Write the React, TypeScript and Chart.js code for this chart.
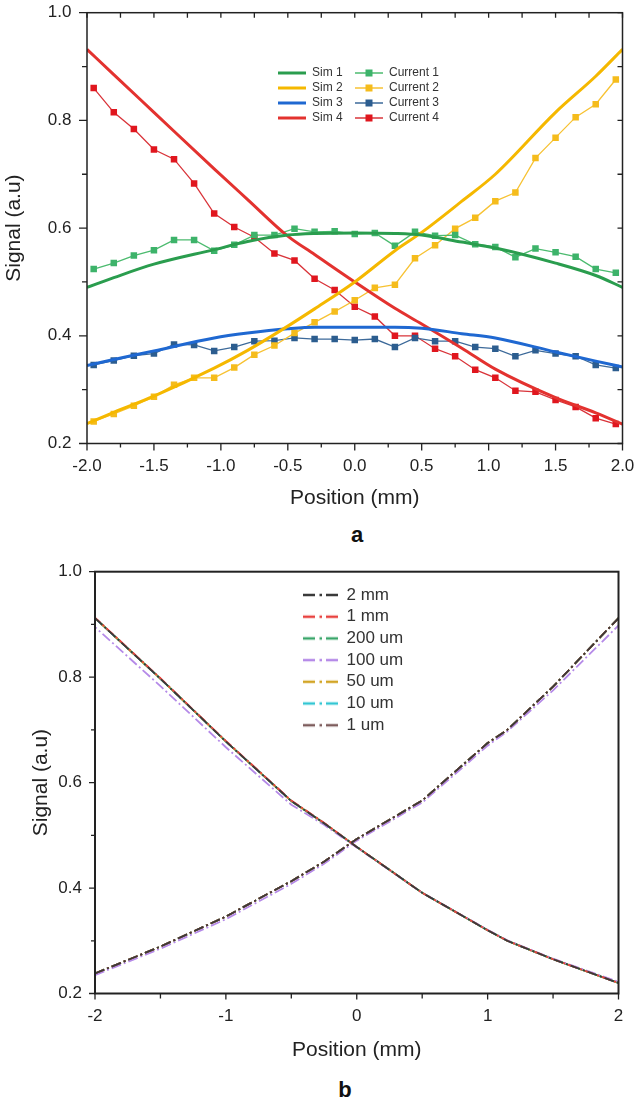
import React, { useEffect, useRef } from "react";
import { Chart, registerables } from "chart.js";

Chart.register(...registerables);

const FONT = "'Liberation Sans', Arial, Helvetica, sans-serif";
const INK = "#222222";

// ---------------- Panel a ----------------
const simX = [-2, -1.8, -1.5, -1.05, -0.8, -0.5, -0.3, 0, 0.3, 0.5, 0.8, 1.05, 1.5, 1.8, 2];
const sim1 = [0.490, 0.508, 0.533, 0.560, 0.575, 0.587, 0.590, 0.591, 0.590, 0.587, 0.574, 0.563, 0.535, 0.512, 0.490];
const sim2 = [0.237, 0.258, 0.288, 0.340, 0.373, 0.418, 0.450, 0.500, 0.558, 0.592, 0.650, 0.700, 0.815, 0.882, 0.932];
const sim3 = [0.345, 0.356, 0.372, 0.396, 0.405, 0.413, 0.416, 0.416, 0.416, 0.414, 0.404, 0.396, 0.370, 0.353, 0.342];
const sim4 = [0.932, 0.885, 0.815, 0.710, 0.653, 0.585, 0.551, 0.500, 0.451, 0.422, 0.377, 0.338, 0.285, 0.257, 0.236];

const curX = [-1.95, -1.8, -1.65, -1.5, -1.35, -1.2, -1.05, -0.9, -0.75, -0.6, -0.45, -0.3, -0.15, 0, 0.15, 0.3, 0.45, 0.6, 0.75, 0.9, 1.05, 1.2, 1.35, 1.5, 1.65, 1.8, 1.95];
const current1 = [0.524, 0.535, 0.549, 0.559, 0.578, 0.578, 0.558, 0.569, 0.587, 0.587, 0.599, 0.593, 0.594, 0.589, 0.591, 0.567, 0.593, 0.586, 0.587, 0.570, 0.565, 0.546, 0.562, 0.555, 0.547, 0.524, 0.517];
const current2 = [0.241, 0.255, 0.270, 0.287, 0.309, 0.322, 0.322, 0.341, 0.365, 0.382, 0.405, 0.425, 0.445, 0.466, 0.489, 0.495, 0.544, 0.568, 0.599, 0.619, 0.650, 0.666, 0.730, 0.768, 0.806, 0.830, 0.876];
const current3 = [0.346, 0.354, 0.363, 0.367, 0.384, 0.383, 0.372, 0.379, 0.390, 0.391, 0.396, 0.394, 0.394, 0.392, 0.394, 0.379, 0.396, 0.390, 0.390, 0.379, 0.376, 0.362, 0.373, 0.367, 0.362, 0.346, 0.340];
const current4 = [0.860, 0.815, 0.784, 0.746, 0.728, 0.683, 0.627, 0.602, 0.583, 0.553, 0.540, 0.506, 0.485, 0.454, 0.436, 0.400, 0.400, 0.376, 0.362, 0.337, 0.322, 0.298, 0.296, 0.281, 0.268, 0.247, 0.236];

const simLabels = ["Sim 1", "Sim 2", "Sim 3", "Sim 4"];
const currentLabels = ["Current 1", "Current 2", "Current 3", "Current 4"];
const simColors = ["#2a9d4e", "#f5b800", "#1f68d1", "#e3322f"];
const currentLineColors = ["#4cbb6f", "#f7c233", "#3d6a9a", "#d9343a"];
const currentMarkerColors = ["#3db36a", "#f5bc1c", "#2c5d8f", "#e0161e"];

// ---------------- Panel b ----------------
const posX = [-2, -1.5, -1, -0.5, -0.25, 0, 0.5, 1, 1.15, 1.5, 2];
const widthLabels = ["2 mm", "1 mm", "200 um", "100 um", "50 um", "10 um", "1 um"];
const widthColors = ["#3a3a3a", "#e8423f", "#3aa66a", "#b58ae8", "#d2a526", "#33c6d3", "#7d5c5c"];
const fallCurves = [
  [0.912, 0.797, 0.678, 0.565, 0.523, 0.478, 0.391, 0.320, 0.300, 0.265, 0.220],
  [0.913, 0.798, 0.679, 0.566, 0.524, 0.478, 0.391, 0.320, 0.300, 0.265, 0.220],
  [0.912, 0.797, 0.678, 0.565, 0.523, 0.478, 0.391, 0.320, 0.300, 0.265, 0.220],
  [0.895, 0.783, 0.667, 0.558, 0.520, 0.477, 0.391, 0.321, 0.301, 0.266, 0.222],
  [0.912, 0.797, 0.678, 0.565, 0.523, 0.478, 0.391, 0.320, 0.300, 0.265, 0.220],
  [0.912, 0.797, 0.678, 0.565, 0.523, 0.478, 0.391, 0.320, 0.300, 0.265, 0.220],
  [0.912, 0.797, 0.678, 0.565, 0.523, 0.478, 0.391, 0.320, 0.300, 0.265, 0.220],
];
const riseCurves = [
  [0.238, 0.289, 0.346, 0.413, 0.450, 0.493, 0.566, 0.675, 0.700, 0.782, 0.912],
  [0.238, 0.289, 0.346, 0.413, 0.450, 0.493, 0.566, 0.675, 0.700, 0.782, 0.912],
  [0.238, 0.289, 0.346, 0.413, 0.450, 0.493, 0.566, 0.675, 0.700, 0.782, 0.912],
  [0.235, 0.285, 0.341, 0.408, 0.446, 0.490, 0.562, 0.670, 0.697, 0.775, 0.898],
  [0.238, 0.289, 0.346, 0.413, 0.450, 0.493, 0.566, 0.675, 0.700, 0.782, 0.912],
  [0.238, 0.289, 0.346, 0.413, 0.450, 0.493, 0.566, 0.675, 0.700, 0.782, 0.912],
  [0.238, 0.289, 0.346, 0.413, 0.450, 0.493, 0.566, 0.675, 0.700, 0.782, 0.912],
];

// ---------------- helpers ----------------
function stepValues(min: number, max: number, step: number, offset: number) {
  const out: number[] = [];
  for (let k = 0; min + offset + k * step <= max + 1e-9; k++) out.push(+(min + offset + k * step).toFixed(6));
  return out;
}

type TickSpec = { edge: "left" | "right" | "top" | "bottom"; step: number; offset: number; len: number; out: boolean };

function makeFramePlugin(cfg: {
  frameWidth: number;
  ticks: TickSpec[];
  legend: { left: number; top: number; maxHeight: number; colWidth?: number };
}) {
  return {
    id: "frameTicks",
    afterLayout(chart: any) {
      const lg = chart.legend;
      if (!lg) return;
      lg.maxHeight = cfg.legend.maxHeight;
      lg.fit();
      lg.left = cfg.legend.left;
      lg.top = cfg.legend.top;
      lg.height = cfg.legend.maxHeight;
      lg.right = lg.left + lg.width;
      lg.bottom = lg.top + cfg.legend.maxHeight;
      if (cfg.legend.colWidth && lg.columnSizes && lg.columnSizes.length > 1) {
        lg.columnSizes[0].width = cfg.legend.colWidth;
      }
    },
    afterDraw(chart: any) {
      const { ctx, chartArea: a, scales } = chart;
      const xs = scales.x;
      const ys = scales.y;
      ctx.save();
      ctx.strokeStyle = INK;
      ctx.lineWidth = cfg.frameWidth;
      ctx.strokeRect(a.left, a.top, a.right - a.left, a.bottom - a.top);
      ctx.lineWidth = 1.3;
      ctx.beginPath();
      cfg.ticks.forEach((t) => {
        const horiz = t.edge === "top" || t.edge === "bottom";
        const sc = horiz ? xs : ys;
        stepValues(sc.min, sc.max, t.step, t.offset).forEach((v) => {
          const p = sc.getPixelForValue(v);
          if (t.edge === "bottom") {
            ctx.moveTo(p, a.bottom);
            ctx.lineTo(p, t.out ? a.bottom + t.len : a.bottom - t.len);
          } else if (t.edge === "top") {
            ctx.moveTo(p, a.top);
            ctx.lineTo(p, t.out ? a.top - t.len : a.top + t.len);
          } else if (t.edge === "left") {
            ctx.moveTo(a.left, p);
            ctx.lineTo(t.out ? a.left - t.len : a.left + t.len, p);
          } else {
            ctx.moveTo(a.right, p);
            ctx.lineTo(t.out ? a.right + t.len : a.right - t.len, p);
          }
        });
      });
      ctx.stroke();
      ctx.restore();
    },
  };
}

function legendImage(w: number, h: number, draw: (c: CanvasRenderingContext2D) => void) {
  const cv = document.createElement("canvas");
  cv.width = w;
  cv.height = h;
  const c = cv.getContext("2d")!;
  draw(c);
  return cv;
}

function axisTitle(text: string, size: number, pad: any) {
  return { display: true, text, color: INK, font: { family: FONT, size }, padding: pad };
}

const fitX = (h: number) => (s: any) => {
  s.height = h;
  s.paddingLeft = 0;
  s.paddingRight = 0;
};
const fitY = (w: number) => (s: any) => {
  s.width = w;
  s.paddingTop = 0;
  s.paddingBottom = 0;
};

// ---------------- configs ----------------
function buildTopConfig(): any {
  const simImgs = simColors.map((col) =>
    legendImage(28, 12, (c) => {
      c.strokeStyle = col;
      c.lineWidth = 3;
      c.beginPath();
      c.moveTo(0, 6);
      c.lineTo(28, 6);
      c.stroke();
    })
  );
  const curImgs = currentLineColors.map((col, i) =>
    legendImage(28, 12, (c) => {
      c.strokeStyle = col;
      c.lineWidth = 1.5;
      c.beginPath();
      c.moveTo(0, 6);
      c.lineTo(28, 6);
      c.stroke();
      c.fillStyle = currentMarkerColors[i];
      c.fillRect(10.5, 2.5, 7, 7);
    })
  );
  const sims = [sim1, sim2, sim3, sim4];
  const curs = [current1, current2, current3, current4];
  const datasets: any[] = [];
  sims.forEach((ys, i) =>
    datasets.push({
      label: simLabels[i],
      data: simX.map((x, k) => ({ x, y: ys[k] })),
      borderColor: simColors[i],
      backgroundColor: simColors[i],
      borderWidth: 3,
      pointRadius: 0,
      cubicInterpolationMode: "monotone",
    })
  );
  curs.forEach((ys, i) =>
    datasets.push({
      label: currentLabels[i],
      data: curX.map((x, k) => ({ x, y: ys[k] })),
      borderColor: currentLineColors[i],
      backgroundColor: currentMarkerColors[i],
      borderWidth: 1.3,
      pointStyle: "rect",
      pointRadius: 4.6,
      pointBorderWidth: 0,
      pointBackgroundColor: currentMarkerColors[i],
      tension: 0,
    })
  );
  const imgs = [...simImgs, ...curImgs];
  return {
    type: "line",
    data: { datasets },
    plugins: [
      makeFramePlugin({
        frameWidth: 1.5,
        ticks: [
          { edge: "left", step: 0.2, offset: 0, len: 8, out: true },
          { edge: "left", step: 0.2, offset: 0.1, len: 5, out: true },
          { edge: "bottom", step: 0.5, offset: 0, len: 7, out: true },
          { edge: "bottom", step: 0.5, offset: 0.25, len: 4, out: true },
          { edge: "top", step: 0.25, offset: 0, len: 5, out: false },
          { edge: "right", step: 0.1, offset: 0, len: 5, out: false },
        ],
        legend: { left: 275, top: 64, maxHeight: 68, colWidth: 74 },
      }),
    ],
    options: {
      responsive: false,
      animation: false,
      devicePixelRatio: 1,
      layout: { padding: { top: 12.7, right: 17.5, left: 0, bottom: 0 } },
      plugins: {
        tooltip: { enabled: false },
        legend: {
          position: "chartArea",
          align: "start",
          labels: {
            usePointStyle: true,
            pointStyleWidth: 28,
            padding: 3,
            color: "#333",
            font: { family: FONT, size: 12 },
            generateLabels: (chart: any) =>
              chart.data.datasets.map((ds: any, i: number) => ({
                text: ds.label,
                pointStyle: imgs[i],
                fontColor: "#333",
                fillStyle: "transparent",
                strokeStyle: "transparent",
                lineWidth: 0,
                hidden: false,
                datasetIndex: i,
              })),
          },
        },
      },
      scales: {
        x: {
          type: "linear",
          min: -2,
          max: 2,
          grid: { display: false, drawTicks: false },
          border: { display: false },
          ticks: {
            stepSize: 0.5,
            autoSkip: false,
            maxRotation: 0,
            padding: 13,
            color: INK,
            font: { family: FONT, size: 17 },
            callback: (v: any) => Number(v).toFixed(1),
          },
          title: axisTitle("Position (mm)", 21, { top: 0, bottom: 9.1 }),
          afterFit: fitX(76.5),
        },
        y: {
          type: "linear",
          min: 0.2,
          max: 1.0,
          grid: { display: false, drawTicks: false },
          border: { display: false },
          ticks: {
            stepSize: 0.2,
            padding: 15.5,
            color: INK,
            font: { family: FONT, size: 17 },
            callback: (v: any) => Number(v).toFixed(1),
          },
          title: axisTitle("Signal (a.u)", 21, { top: 1.4, bottom: 0 }),
          afterFit: fitY(87),
        },
      },
    },
  };
}

function buildBottomConfig(): any {
  const imgs = widthColors.map((col) =>
    legendImage(35, 8, (c) => {
      c.strokeStyle = col;
      c.lineWidth = 2.6;
      c.beginPath();
      c.moveTo(0, 4);
      c.lineTo(12, 4);
      c.moveTo(16.5, 4);
      c.lineTo(19, 4);
      c.moveTo(23, 4);
      c.lineTo(35, 4);
      c.stroke();
    })
  );
  const nFall = posX.length;
  const datasets = widthLabels.map((label, i) => ({
    label,
    data: [
      ...posX.map((x, k) => ({ x, y: fallCurves[i][k] })),
      { x: 0, y: null },
      ...posX.map((x, k) => ({ x, y: riseCurves[i][k] })),
    ],
    borderColor: widthColors[i],
    backgroundColor: widthColors[i],
    borderWidth: 1.8,
    borderDash: [10, 3, 2, 3],
    segment: {
      borderDashOffset: (ctx: any) => (ctx.p0DataIndex < nFall ? i * 2.6 : 0),
    },
    pointRadius: 0,
    tension: 0,
    spanGaps: false,
  }));
  return {
    type: "line",
    data: { datasets },
    plugins: [
      makeFramePlugin({
        frameWidth: 2,
        ticks: [
          { edge: "left", step: 0.2, offset: 0, len: 6, out: true },
          { edge: "left", step: 0.2, offset: 0.1, len: 4, out: true },
          { edge: "bottom", step: 1, offset: 0, len: 6, out: true },
          { edge: "bottom", step: 1, offset: 0.5, len: 5, out: true },
        ],
        legend: { left: 298.3, top: 31.8, maxHeight: 200 },
      }),
    ],
    options: {
      responsive: false,
      animation: false,
      devicePixelRatio: 1,
      layout: { padding: { top: 21.7, right: 21.5, left: 0, bottom: 0 } },
      plugins: {
        tooltip: { enabled: false },
        legend: {
          position: "chartArea",
          align: "start",
          labels: {
            usePointStyle: true,
            pointStyleWidth: 35,
            padding: 4.7,
            color: "#333",
            font: { family: FONT, size: 17 },
            generateLabels: (chart: any) =>
              chart.data.datasets.map((ds: any, i: number) => ({
                text: ds.label,
                pointStyle: imgs[i],
                fontColor: "#333",
                fillStyle: "transparent",
                strokeStyle: "transparent",
                lineWidth: 0,
                hidden: false,
                datasetIndex: i,
              })),
          },
        },
      },
      scales: {
        x: {
          type: "linear",
          min: -2,
          max: 2,
          grid: { display: false, drawTicks: false },
          border: { display: false },
          ticks: {
            stepSize: 1,
            autoSkip: false,
            maxRotation: 0,
            padding: 13,
            color: INK,
            font: { family: FONT, size: 17 },
            callback: (v: any) => String(Math.round(Number(v))),
          },
          title: axisTitle("Position (mm)", 21, { top: 0, bottom: 7.4 }),
          afterFit: fitX(76.5),
        },
        y: {
          type: "linear",
          min: 0.2,
          max: 1.0,
          grid: { display: false, drawTicks: false },
          border: { display: false },
          ticks: {
            stepSize: 0.2,
            padding: 13,
            color: INK,
            font: { family: FONT, size: 17 },
            callback: (v: any) => Number(v).toFixed(1),
          },
          title: axisTitle("Signal (a.u)", 21, { top: 28.4, bottom: 0 }),
          afterFit: fitY(95),
        },
      },
    },
  };
}

export default function App() {
  const topRef = useRef<HTMLCanvasElement>(null);
  const botRef = useRef<HTMLCanvasElement>(null);

  useEffect(() => {
    const c1 = new Chart(topRef.current as HTMLCanvasElement, buildTopConfig());
    const c2 = new Chart(botRef.current as HTMLCanvasElement, buildBottomConfig());
    return () => {
      c1.destroy();
      c2.destroy();
    };
  }, []);

  const panelLabel: React.CSSProperties = {
    position: "absolute",
    transform: "translate(-50%, -50%)",
    fontFamily: FONT,
    fontWeight: "bold",
    fontSize: 22,
    lineHeight: 1,
    color: "#111",
  };

  return (
    <div style={{ position: "absolute", left: 0, top: 0, width: 640, height: 1102, background: "#fff", overflow: "hidden" }}>
      <canvas ref={topRef} width={640} height={520} style={{ position: "absolute", left: 0, top: 0, width: 640, height: 520 }} />
      <div style={{ ...panelLabel, left: 357, top: 535 }}>a</div>
      <canvas ref={botRef} width={640} height={520} style={{ position: "absolute", left: 0, top: 550, width: 640, height: 520 }} />
      <div style={{ ...panelLabel, left: 345, top: 1090 }}>b</div>
    </div>
  );
}
